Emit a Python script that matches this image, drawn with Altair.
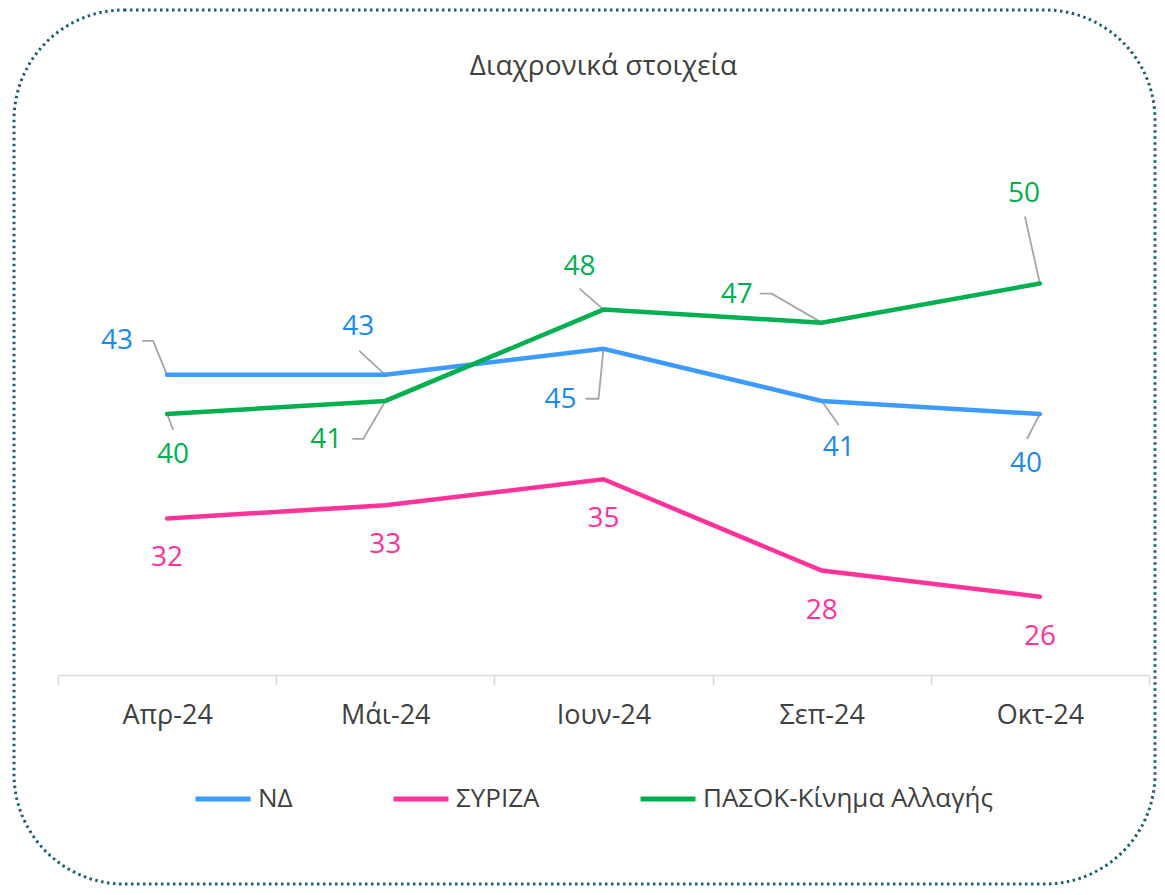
import json
import altair as alt
import pandas as pd

# ---------------- data ----------------
TITLE = "Διαχρονικά στοιχεία"
MONTHS = ["Απρ-24", "Μάι-24", "Ιουν-24", "Σεπ-24", "Οκτ-24"]
SERIES = ["ΝΔ", "ΣΥΡΙΖΑ", "ΠΑΣΟΚ-Κίνημα Αλλαγής"]
ND = [43, 43, 45, 41, 40]
SYRIZA = [32, 33, 35, 28, 26]
PASOK = [40, 41, 48, 47, 50]

# ---------------- styling ----------------
LINE_COLORS = ["#3D9BFF", "#FF3399", "#00B050"]
LABEL_COLORS = ["#1A8AEF", "#FF3399", "#00B050"]
TEXT_COLOR = "#404040"
FONT = "Open Sans"

# label placement: offset of label centre from its point (pixels: right, down)
LABEL_OFFSET_ND = [(-50, -34), (-27, -48), (-43, 51), (17, 47), (-14, 50)]
LABEL_OFFSET_SYRIZA = [(0, 40), (0, 40), (0, 40), (0, 40), (0, 40)]
LABEL_OFFSET_PASOK = [(6, 41), (-59, 39), (-24, -43), (-85, -28), (-16, -90)]

# leader lines: list of (pixel) vertices after the point; [] = no leader
LEADER_ND = [[(-14, -34), (-25, -34)], [(-26, -24)], [(-5, 50), (-18, 50)], [(17, 24)], [(-13, 25)]]
LEADER_SYRIZA = [[], [], [], [], []]
LEADER_PASOK = [[(6, 16)], [(-22, 38), (-33, 38)], [(-24, -21)], [(-50, -29), (-62, -29)], [(-15, -67)]]

W, H = 1091, 522
Y_MIN, Y_MAX = 20, 60
PX_X = W / len(MONTHS)
PX_Y = H / (Y_MAX - Y_MIN)

# ---------------- tables ----------------
rows, label_rows, leader_rows = [], [], []
for s, vals, offs, leads in zip(
    SERIES,
    [ND, SYRIZA, PASOK],
    [LABEL_OFFSET_ND, LABEL_OFFSET_SYRIZA, LABEL_OFFSET_PASOK],
    [LEADER_ND, LEADER_SYRIZA, LEADER_PASOK],
):
    for i, (v, (dx, dy), lead) in enumerate(zip(vals, offs, leads)):
        rows.append({"series": s, "idx": i, "value": v})
        label_rows.append({"series": s, "text": str(v),
                           "lx": i + dx / PX_X, "ly": v - dy / PX_Y})
        if lead:
            pts = [(0, 0)] + list(lead)
            for k, (px, py) in enumerate(pts):
                leader_rows.append({"key": f"{s}-{i}", "step": k,
                                    "lx": i + px / PX_X, "ly": v - py / PX_Y})

lines_df = pd.DataFrame(rows)
labels_df = pd.DataFrame(label_rows)
leaders_df = pd.DataFrame(leader_rows)

xs = alt.Scale(domain=[-0.5, len(MONTHS) - 0.5], nice=False, zero=False)
ys = alt.Scale(domain=[Y_MIN, Y_MAX], nice=False, zero=False)

tick_vals = [i / 2 - 0.5 for i in range(2 * len(MONTHS) + 1)]
label_expr = "datum.value % 1 === 0 ? " + json.dumps(MONTHS, ensure_ascii=False) + "[datum.value] : ''"

X_AXIS = alt.Axis(
    values=tick_vals,
    labelExpr=label_expr,
    title=None,
    grid=False,
    domainColor="#D9D9D9",
    domainWidth=1.5,
    tickColor={"condition": {"test": "datum.value % 1 === 0", "value": "transparent"},
               "value": "#D9D9D9"},
    tickSize=10,
    tickWidth=1.5,
    labelFont=FONT,
    labelFontSize=27,
    labelColor=TEXT_COLOR,
    labelPadding=17,
    labelOverlap=False,
    labelFlush=False,
)

border = alt.Chart(pd.DataFrame({"a": [0]})).mark_rect(
    fill="transparent", stroke="#1F5E70", strokeWidth=3,
    strokeDash=[2.5, 3.5], cornerRadius=110,
).encode(
    x=alt.value(-44), x2=alt.value(1097), y=alt.value(-143), y2=alt.value(731)
)

title = alt.Chart(pd.DataFrame({"t": [TITLE]})).mark_text(
    font=FONT, fontSize=28, color=TEXT_COLOR, align="center", baseline="alphabetic"
).encode(
    text="t:N", x=alt.value(W / 2), y=alt.value(-78)
)

lines = alt.Chart(lines_df).mark_line(strokeWidth=4.5, strokeCap="round").encode(
    x=alt.X("idx:Q", scale=xs, axis=X_AXIS),
    y=alt.Y("value:Q", scale=ys, axis=None),
    color=alt.Color(
        "series:N",
        scale=alt.Scale(domain=SERIES, range=LINE_COLORS),
        legend=alt.Legend(
            orient="none", legendX=135, legendY=616, direction="horizontal",
            title=None, symbolType="stroke", symbolSize=3025, symbolStrokeWidth=5,
            labelFontSize=26, labelFont=FONT, labelColor=TEXT_COLOR,
            columnPadding=90, labelOffset=5, padding=0, labelLimit=0,
        ),
    ),
)

leaders = alt.Chart(leaders_df).mark_line(color="#A6A6A6", strokeWidth=1.8).encode(
    x=alt.X("lx:Q", scale=xs, axis=X_AXIS),
    y=alt.Y("ly:Q", scale=ys, axis=None),
    detail="key:N",
    order="step:Q",
)

labels = alt.Chart(labels_df).mark_text(
    font=FONT, fontSize=28, align="center", baseline="middle"
).encode(
    x=alt.X("lx:Q", scale=xs, axis=X_AXIS),
    y=alt.Y("ly:Q", scale=ys, axis=None),
    text="text:N",
    color=alt.Color("series:N", scale=alt.Scale(domain=SERIES, range=LABEL_COLORS), legend=None),
)

chart = (
    alt.layer(border, title, leaders, lines, labels)
    .resolve_scale(color="independent")
    .properties(
        width=W,
        height=H,
        autosize=alt.AutoSizeParams(type="none"),
        padding={"left": 50, "top": 145, "right": 8, "bottom": 212},
        background="white",
    )
    .configure_view(stroke=None)
)

chart.save("out.html", embed_options={"renderer": "svg", "actions": False})
